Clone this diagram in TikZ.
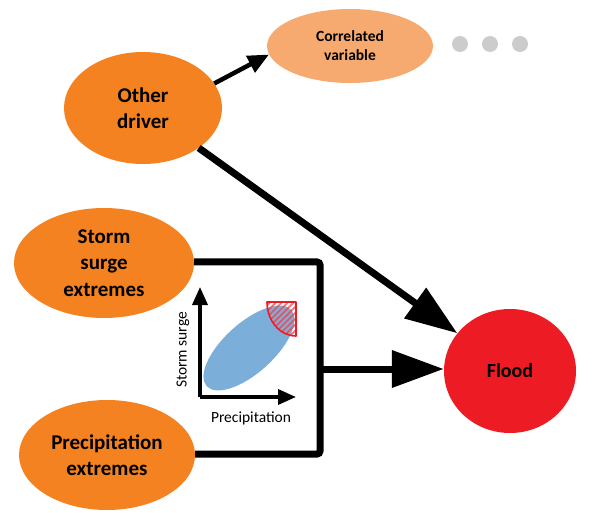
\documentclass[tikz,border=0pt]{standalone}
\usepackage{fontspec}
\setmainfont{Carlito}
\usetikzlibrary{shapes.geometric,arrows.meta,patterns.meta}
\definecolor{orangeA}{RGB}{245,130,32}
\definecolor{orangeB}{RGB}{247,170,112}
\definecolor{floodred}{RGB}{237,28,36}
\definecolor{dotgray}{RGB}{204,204,204}
\definecolor{blobblue}{RGB}{123,175,217}
\definecolor{overlap}{RGB}{150,138,178}
\tikzset{
  blob/.style={ellipse, fill=orangeA, inner sep=0pt, align=center, font=\fontsize{21}{26.5}\selectfont\bfseries},
  bigarrow/.style={line width=7pt, -{Triangle[length=52pt,width=36pt]}},
  smallarrow/.style={line width=4.5pt, -{Triangle[length=21pt,width=18pt]}},
  axisarrow/.style={line width=3.5pt, -{Triangle[length=18pt,width=15pt]}},
  boxline/.style={line width=7pt, rounded corners=3pt},
  dotnode/.style={circle, fill=dotgray, minimum size=16pt, inner sep=0pt}
}
\begin{document}
\begin{tikzpicture}[x=1pt,y=-1pt]
\useasboundingbox (0,0) rectangle (592,513);
% nodes
\node[blob, minimum width=158pt, minimum height=112pt] (other) at (143,108) {Other\\driver};
\node[ellipse, fill=orangeB, inner sep=0pt, minimum width=166pt, minimum height=74pt, align=center, font=\fontsize{15.5}{19}\selectfont\bfseries] (corr) at (350,46) {Correlated\\variable};
\node[dotnode] (d1) at (460,44) {};
\node[dotnode] (d2) at (490,44) {};
\node[dotnode] (d3) at (520,44) {};
\node[blob, minimum width=180pt, minimum height=110pt] (storm) at (104,263) {Storm\\surge\\extremes};
\node[blob, minimum width=176pt, minimum height=110pt] (precip) at (107,455) {Precipitation\\extremes};
\node[ellipse, fill=floodred, inner sep=0pt, minimum width=132pt, minimum height=124pt, font=\fontsize{20}{24}\selectfont\bfseries] (flood) at (510,371) {Flood};
% box
\coordinate (boxtr) at (320,262);
\coordinate (boxbr) at (320,454);
\coordinate (boxmid) at (320,369);
\draw[boxline] (storm.east |- boxtr) -- (boxtr) -- (boxbr) -- (precip.east |- boxbr);
% arrows
\draw[bigarrow] (boxmid) -- (flood.west |- boxmid);
\draw[bigarrow] (other) -- (flood);
\draw[smallarrow] (other.19) -- (corr.186);
% plot
\coordinate (orig) at (200,397);
\coordinate (ytip) at (200,287);
\coordinate (xtip) at (296,397);
\node[fill=blobblue, ellipse, rotate=42, minimum width=114pt, minimum height=50pt, inner sep=0pt] (blue) at (249,348) {};
\begin{scope}
  \clip (249,348) ellipse[x radius=57, y radius=25, rotate=-42];
  \fill[overlap] (267,302) arc[start angle=180, end angle=90, x radius=29, y radius=34] -- (296,302) -- cycle;
\end{scope}
\fill[pattern={Lines[angle=45, distance=4.2pt, line width=1.7pt]}, pattern color=floodred!85, opacity=0.75] (267,302) arc[start angle=180, end angle=90, x radius=29, y radius=34] -- (296,302) -- cycle;
\draw[floodred, line width=1.6pt, line join=round] (267,302) arc[start angle=180, end angle=90, x radius=29, y radius=34] -- (296,302) -- cycle;
\draw[axisarrow] (ytip |- orig) -- (ytip);
\draw[axisarrow] (orig) -- (xtip);
\node[font=\fontsize{15.5}{18}\selectfont\addfontfeature{Ligatures=Rare}] (xlab) at (251,418) {Precipitation};
\node[font=\fontsize{15.5}{18}\selectfont, rotate=90] (ylab) at (183,350) {Storm surge};
\end{tikzpicture}
\end{document}
